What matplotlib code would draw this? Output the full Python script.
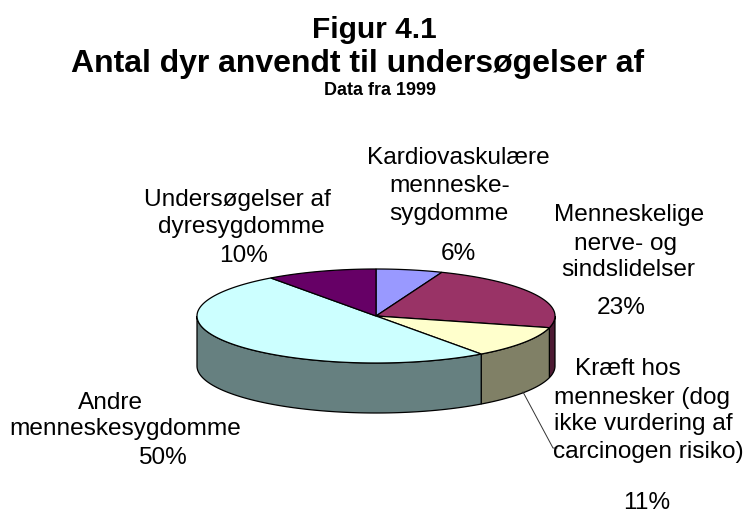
import numpy as np
import matplotlib
matplotlib.use('Agg')
import matplotlib.pyplot as plt
from matplotlib.patches import Polygon

plt.rcParams['font.family'] = ['Liberation Sans', 'DejaVu Sans']

# data, clockwise from 12 o'clock
categories = ["Kardiovaskulære menneskesygdomme", "Menneskelige nerve- og sindslidelser",
              "Kræft hos mennesker", "Andre menneskesygdomme", "Undersøgelser af dyresygdomme"]
values = [6, 23, 11, 50, 10]
top_colors = ['#9999FF', '#993366', '#FFFFCC', '#CCFFFF', '#660066']
side_colors = ['#666699', '#4D1A33', '#808066', '#668080', '#330033']

# the label lines are not quite centred on each other in the original
label_lines = [
    ("Kardiovaskulære", 458, 158), ("menneske-", 450, 186), ("sygdomme", 449, 214), ("6%", 458, 254),
    ("Menneskelige", 629, 215), ("nerve- og", 626, 244), ("sindslidelser", 628, 270), ("23%", 621, 308),
    ("Kræft hos", 628, 369), ("mennesker (dog", 642, 398), ("ikke vurdering af", 643, 424),
    ("carcinogen risiko)", 648, 452), ("11%", 647, 503),
    ("Andre", 110, 403), ("menneskesygdomme", 125, 429), ("50%", 162, 458),
    ("Undersøgelser af", 237, 200), ("dyresygdomme", 241, 227), ("10%", 244, 256),
]

CX, CY = 376, 316
A, B = 179, 47
DEPTH = 50

fig = plt.figure(figsize=(7.44, 5.15), dpi=100)
ax = fig.add_axes([0, 0, 1, 1])
ax.set_xlim(0, 744)
ax.set_ylim(515, 0)
ax.axis('off')

edges = np.cumsum([0] + values) / sum(values) * 2 * np.pi


def arc(t0, t1):
    t = np.linspace(t0, t1, max(int((t1 - t0) * 60), 2))
    return CX + A * np.sin(t), CY - B * np.cos(t)


# side wall, only the part of each slice facing the viewer
for i in range(len(values)):
    t0 = max(edges[i], np.pi / 2)
    t1 = min(edges[i + 1], 3 * np.pi / 2)
    if t1 <= t0:
        continue
    x, y = arc(t0, t1)
    pts = np.r_[np.c_[x, y], np.c_[x[::-1], y[::-1] + DEPTH]]
    ax.add_patch(Polygon(pts, closed=True, fc=side_colors[i], ec='black', lw=0.9))

# top face
for i in range(len(values)):
    x, y = arc(edges[i], edges[i + 1])
    pts = np.r_[[[CX, CY]], np.c_[x, y]]
    ax.add_patch(Polygon(pts, closed=True, fc=top_colors[i], ec='black', lw=0.9))

# leader line for the cancer slice
ax.plot([523, 553, 557], [392, 448, 448], color='#333333', lw=0.7)

for lab, x, y in label_lines:
    ax.text(x, y, lab, ha='center', va='center', fontsize=17.6, color='black')

ax.text(374, 38, "Figur 4.1", ha='center', va='baseline', fontsize=21.5, fontweight='bold')
ax.text(357.5, 72, "Antal dyr anvendt til undersøgelser af", ha='center', va='baseline', fontsize=23, fontweight='bold')
ax.text(380, 95, "Data fra 1999", ha='center', va='baseline', fontsize=13, fontweight='bold')

fig.savefig('out.png', dpi=100)
